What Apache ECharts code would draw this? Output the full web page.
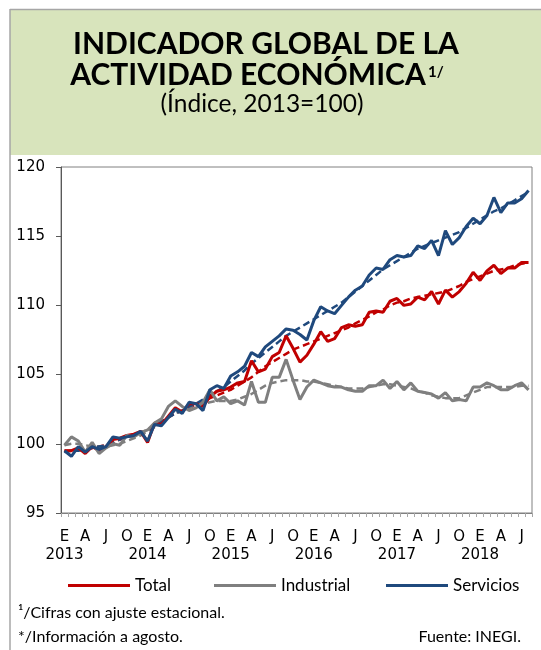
<!DOCTYPE html>
<html>
<head>
<meta charset="utf-8">
<script src="https://cdn.jsdelivr.net/npm/echarts/dist/echarts.min.js"></script>
<style>
  html, body { margin: 0; padding: 0; background: #fff; }
  #chart { width: 541px; height: 650px; }
</style>
</head>
<body>
<div id="chart"></div>
<script>
// IGAE, indices 2013=100, ene 2013 - ago 2018 (68 meses)
const years = ['2013', '2014', '2015', '2016', '2017', '2018']
const quarterLetters = ['E', 'A', 'J', 'O']
const monthsInLastYear = 8
const yTicks = { min: 95, max: 120, step: 5 }

const total = [
  99.5, 99.5, 99.7, 99.3, 99.8, 99.5, 99.8, 100.3, 100.4, 100.6, 100.7, 100.9,
  100.1, 101.5, 101.4, 102.0, 102.6, 102.3, 102.9, 102.9, 102.7, 103.4, 103.8, 103.9,
  104.1, 104.4, 104.5, 106.0, 105.2, 105.4, 106.3, 106.6, 107.8, 106.9, 105.9, 106.4,
  107.2, 108.1, 107.4, 107.6, 108.4, 108.6, 108.5, 108.6, 109.5, 109.6, 109.5, 110.3,
  110.5, 110.0, 110.1, 110.6, 110.4, 111.0, 110.1, 111.1, 110.6, 111.0, 111.6, 112.4,
  111.8, 112.5, 112.9, 112.3, 112.7, 112.7, 113.1, 113.1
]
const industrial = [
  99.9, 100.5, 100.2, 99.4, 100.1, 99.3, 99.7, 100.0, 99.9, 100.6, 100.5, 100.8,
  101.0, 101.5, 101.8, 102.7, 103.1, 102.7, 102.4, 102.6, 103.0, 103.9, 103.1, 103.4,
  102.9, 103.1, 102.8, 104.5, 103.0, 103.0, 104.8, 104.8, 106.1, 104.6, 103.2, 104.1,
  104.6, 104.4, 104.2, 104.1, 104.1, 103.9, 103.8, 103.8, 104.2, 104.2, 104.6, 104.0,
  104.5, 103.9, 104.4, 103.8, 103.7, 103.6, 103.3, 103.7, 103.1, 103.2, 103.1, 104.1,
  104.1, 104.4, 104.2, 103.9, 103.9, 104.2, 104.4, 103.9
]
const servicios = [
  99.5, 99.1, 99.8, 99.4, 99.8, 99.6, 99.8, 100.5, 100.4, 100.5, 100.6, 100.9,
  100.2, 101.4, 101.3, 101.9, 102.5, 102.2, 103.0, 102.9, 102.4, 103.9, 104.2, 104.0,
  104.9, 105.2, 105.6, 106.6, 106.3, 107.0, 107.4, 107.8, 108.3, 108.2, 107.9, 107.5,
  108.9, 109.9, 109.6, 109.4, 110.0, 110.6, 111.1, 111.4, 112.2, 112.7, 112.6, 113.3,
  113.6, 113.5, 113.6, 114.3, 114.1, 114.7, 113.6, 115.4, 114.4, 114.9, 115.7, 116.3,
  115.9, 116.5, 117.8, 116.7, 117.4, 117.4, 117.7, 118.3
]

// tendencias (punteadas)
const totalTrend = [
  99.5, 99.5, 99.6, 99.6, 99.7, 99.8, 99.9, 100.1, 100.3, 100.5, 100.6, 100.8,
  101.0, 101.3, 101.6, 101.9, 102.2, 102.4, 102.6, 102.8, 103.0, 103.3, 103.5, 103.7,
  103.9, 104.2, 104.5, 104.8, 105.2, 105.6, 105.9, 106.2, 106.5, 106.8, 107.0, 107.2,
  107.4, 107.6, 107.8, 108.0, 108.2, 108.4, 108.7, 108.95, 109.2, 109.5, 109.7, 110.0,
  110.2, 110.3, 110.5, 110.6, 110.7, 110.8, 110.9, 111.0, 111.2, 111.4, 111.7, 111.9,
  112.1, 112.3, 112.5, 112.6, 112.7, 112.9, 113.0, 113.1
]
const industrialTrend = [
  99.9, 100.0, 100.0, 99.9, 99.8, 99.8, 99.8, 99.9, 100.0, 100.2, 100.4, 100.6,
  100.9, 101.2, 101.5, 101.9, 102.2, 102.4, 102.6, 102.8, 102.9, 103.0, 103.1, 103.1,
  103.1, 103.2, 103.4, 103.6, 103.9, 104.2, 104.4, 104.5, 104.6, 104.6, 104.6, 104.5,
  104.5, 104.4, 104.3, 104.2, 104.1, 104.0, 104.0, 104.0, 104.1, 104.2, 104.3, 104.3,
  104.2, 104.1, 104.0, 103.8, 103.7, 103.5, 103.4, 103.3, 103.3, 103.3, 103.5, 103.7,
  103.9, 104.1, 104.1, 104.1, 104.1, 104.1, 104.2, 104.2
]
const serviciosTrend = [
  99.4, 99.5, 99.5, 99.6, 99.7, 99.8, 99.9, 100.1, 100.3, 100.5, 100.6, 100.8,
  101.0, 101.3, 101.6, 101.9, 102.2, 102.4, 102.7, 102.9, 103.2, 103.5, 103.8, 104.1,
  104.5, 104.9, 105.3, 105.8, 106.2, 106.6, 107.0, 107.4, 107.8, 108.1, 108.4, 108.7,
  109.0, 109.3, 109.6, 109.9, 110.2, 110.6, 111.0, 111.4, 111.8, 112.2, 112.6, 112.9,
  113.2, 113.5, 113.8, 114.1, 114.3, 114.5, 114.7, 114.9, 115.1, 115.3, 115.6, 115.9,
  116.2, 116.5, 116.8, 117.0, 117.3, 117.6, 117.9, 118.2
]

const colors = { total: '#C00000', industrial: '#7F7F7F', servicios: '#1F497D' }

// una categoria por mes
const categories = []
years.forEach((y, yi) => {
  const n = yi === years.length - 1 ? monthsInLastYear : 12
  for (let m = 1; m <= n; m++) categories.push(y + '-' + m)
})

const solid = (name, data, color) => ({
  name, type: 'line', data, symbol: 'none', z: 3,
  lineStyle: { color, width: 3 }, itemStyle: { color }
})
const dashed = (name, data, color) => ({
  name, type: 'line', data, symbol: 'none', z: 2,
  lineStyle: { color, width: 2.5, type: [7, 4] }, itemStyle: { color }
})

const labelFont = { fontFamily: 'DejaVu Sans', fontSize: 15, color: '#000' }

const myChart = echarts.init(document.getElementById('chart'))
myChart.setOption({
  animation: false,
  graphic: [
    { type: 'rect', z: -10, shape: { x: 10, y: 10, width: 531, height: 145 }, style: { fill: '#D8E4BC' } },
    { type: 'line', z: -9, shape: { x1: 10, y1: 9.5, x2: 541, y2: 9.5 }, style: { stroke: '#A6A6A6', lineWidth: 1.5 } },
    { type: 'line', z: -9, shape: { x1: 10, y1: 9, x2: 10, y2: 650 }, style: { stroke: '#A6A6A6', lineWidth: 1.5 } },
    { type: 'text', style: { text: 'INDICADOR GLOBAL DE LA', x: 266, y: 44, align: 'center', verticalAlign: 'middle', font: 'bold 30px Lato', fill: '#000' } },
    { type: 'text', style: { text: 'ACTIVIDAD ECONÓMICA', x: 248, y: 75, align: 'center', verticalAlign: 'middle', font: 'bold 30px Lato', fill: '#000' } },
    { type: 'text', style: { text: '1/', x: 428, y: 72, align: 'left', verticalAlign: 'middle', font: 'bold 15px Lato', fill: '#000' } },
    { type: 'text', style: { text: '(Índice, 2013=100)', x: 262, y: 104, align: 'center', verticalAlign: 'middle', font: '24.5px Lato', fill: '#000' } },
    { type: 'text', style: { text: '¹/Cifras con ajuste estacional.', x: 18, y: 613, verticalAlign: 'middle', font: '16px Lato', fill: '#000' } },
    { type: 'text', style: { text: '*/Información a agosto.', x: 18, y: 637, verticalAlign: 'middle', font: '16px Lato', fill: '#000' } },
    { type: 'text', style: { text: 'Fuente: INEGI.', x: 521, y: 637, align: 'right', verticalAlign: 'middle', font: '16px Lato', fill: '#000' } }
  ],
  legend: [
    { data: ['Total'], left: 63 },
    { data: ['Industrial'], left: 209 },
    { data: ['Servicios'], left: 381 }
  ].map(l => ({
    ...l, top: 572, icon: 'rect', itemWidth: 62, itemHeight: 3, itemGap: 0,
    textStyle: { fontFamily: 'Lato', fontSize: 17, color: '#000' }
  })),
  grid: { left: 61, right: 9, top: 167, bottom: 137, show: true, borderColor: '#808080', borderWidth: 1 },
  xAxis: [
    {
      // meses: E A J O
      type: 'category',
      data: categories,
      boundaryGap: true,
      axisLine: { lineStyle: { color: '#808080' } },
      axisTick: { show: true, interval: 0, length: 4, lineStyle: { color: '#A6A6A6' } },
      axisLabel: {
        ...labelFont,
        interval: (idx) => idx % 3 === 0,
        showMinLabel: true,
        hideOverlap: false,
        margin: 17,
        formatter: (value, idx) => quarterLetters[(idx % 12) / 3]
      }
    },
    {
      // años, debajo de enero
      type: 'category',
      data: categories,
      position: 'bottom',
      boundaryGap: true,
      axisLine: { show: false },
      axisTick: { show: false },
      axisLabel: {
        ...labelFont,
        interval: (idx) => idx % 12 === 0,
        showMinLabel: true,
        hideOverlap: false,
        margin: 35,
        formatter: (value, idx) => years[idx / 12]
      }
    }
  ],
  yAxis: {
    type: 'value',
    min: yTicks.min,
    max: yTicks.max,
    interval: yTicks.step,
    splitLine: { show: false },
    axisLine: { show: true, lineStyle: { color: '#595959' } },
    axisTick: { show: true, length: 5, lineStyle: { color: '#595959' } },
    axisLabel: { ...labelFont, margin: 16 }
  },
  series: [
    dashed('Tendencia Total', totalTrend, colors.total),
    dashed('Tendencia Industrial', industrialTrend, colors.industrial),
    dashed('Tendencia Servicios', serviciosTrend, colors.servicios),
    solid('Total', total, colors.total),
    solid('Industrial', industrial, colors.industrial),
    solid('Servicios', servicios, colors.servicios)
  ]
})
</script>
</body>
</html>
